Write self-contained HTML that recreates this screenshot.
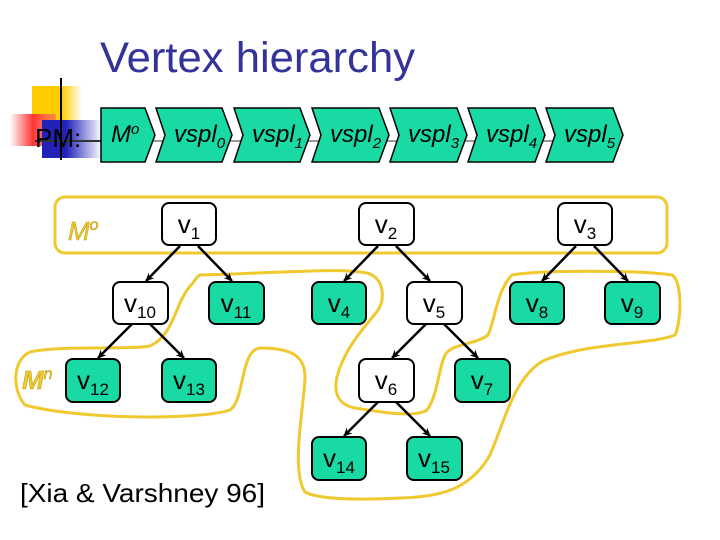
<!DOCTYPE html>
<html><head><meta charset="utf-8"><style>
html,body{margin:0;padding:0;background:#fff;}
svg{display:block;font-family:"Liberation Sans",Arial,sans-serif;}
</style></head><body>
<svg width="720" height="540" viewBox="0 0 720 540" xmlns="http://www.w3.org/2000/svg">
<defs>
<linearGradient id="gy" x1="0" x2="1"><stop offset="0.6" stop-color="#ffcc00"/><stop offset="1" stop-color="#ffcc00" stop-opacity="0"/></linearGradient>
<linearGradient id="gr" x1="0" x2="1"><stop offset="0" stop-color="#ff3333" stop-opacity="0"/><stop offset="0.5" stop-color="#ff3333"/><stop offset="1" stop-color="#ff6666" stop-opacity="0.6"/></linearGradient>
<linearGradient id="gb" x1="0" x2="1"><stop offset="0.4" stop-color="#2222bb"/><stop offset="1" stop-color="#2222bb" stop-opacity="0"/></linearGradient>
<marker id="ar" markerWidth="10" markerHeight="10" refX="8" refY="5" orient="auto" markerUnits="userSpaceOnUse"><path d="M0,1 L9,5 L0,9 L3,5z" fill="#000"/></marker>
</defs>
<text x="100" y="72" font-size="43" fill="#333399" textLength="315" lengthAdjust="spacingAndGlyphs">Vertex hierarchy</text>
<!-- decoration -->
<rect x="32" y="86" width="50" height="34" fill="url(#gy)"/>
<rect x="10" y="114" width="46" height="32" fill="url(#gr)"/>
<rect x="42" y="120" width="60" height="38" fill="url(#gb)"/>
<line x1="61" y1="78" x2="61" y2="160" stroke="#000" stroke-width="2"/>
<line x1="35" y1="141" x2="620" y2="141" stroke="#999" stroke-width="2"/>
<line x1="35" y1="141" x2="101" y2="141" stroke="#333" stroke-width="2"/>
<text x="35" y="147" font-size="26" fill="#000">PM:</text>
<!-- chevrons -->
<g fill="#19d9a4" stroke="#000" stroke-width="1.5">
<path d="M101,108 L145,108 L155,135 L145,162 L101,162Z"/>
<path d="M156,108 L222,108 L232,135 L222,162 L156,162 L165,135Z"/>
<path d="M234,108 L300,108 L310,135 L300,162 L234,162 L243,135Z"/>
<path d="M312,108 L379,108 L389,135 L379,162 L312,162 L321,135Z"/>
<path d="M390,108 L457,108 L467,135 L457,162 L390,162 L399,135Z"/>
<path d="M468,108 L535,108 L545,135 L535,162 L468,162 L477,135Z"/>
<path d="M546,108 L613,108 L623,135 L613,162 L546,162 L555,135Z"/>
</g>
<g font-size="24" font-style="italic" fill="#000">
<text x="111" y="142">M<tspan font-size="15" dy="-8">o</tspan></text>
<text x="174" y="142">vspl<tspan font-size="15" dy="6">0</tspan></text>
<text x="252" y="142">vspl<tspan font-size="15" dy="6">1</tspan></text>
<text x="330" y="142">vspl<tspan font-size="15" dy="6">2</tspan></text>
<text x="408" y="142">vspl<tspan font-size="15" dy="6">3</tspan></text>
<text x="486" y="142">vspl<tspan font-size="15" dy="6">4</tspan></text>
<text x="564" y="142">vspl<tspan font-size="15" dy="6">5</tspan></text>
</g>
<!-- yellow outlines -->
<g fill="none" stroke="#f0c830" stroke-width="3">
<rect x="55" y="197" width="612" height="56" rx="10"/>
<path d="M200,275 C300,272 340,268 367,273 C385,278 385,300 378,310 C370,322 345,345 337,377 C333,395 340,405 355,408 C380,412 415,418 427,410 C438,395 438,370 445,355 C452,343 475,345 488,335 C495,320 497,290 512,275 C540,270 640,270 672,275 C682,280 682,320 675,335 C650,345 590,342 545,360 C515,375 505,420 490,455 C470,490 440,497 400,498 C360,500 320,500 305,492 C290,470 305,400 305,377 C305,355 290,348 260,348 C240,350 245,400 230,410 C200,420 80,420 25,405 C12,390 12,360 30,352 C60,345 130,350 150,346 C175,335 175,300 193,283 C196,278 198,276 200,275Z"/>
</g>
<text x="68" y="240" font-size="26" font-style="italic" fill="#f0c830" stroke="#b89a10" stroke-width="0.5">M<tspan font-size="16" dy="-10">o</tspan></text>
<text x="22" y="389" font-size="26" font-style="italic" font-weight="bold" fill="#f0c830" stroke="#b89a10" stroke-width="0.5">M<tspan font-size="16" dy="-10" font-weight="normal">n</tspan></text>
<!-- edges -->
<g stroke="#000" stroke-width="2.5" marker-end="url(#ar)">
<line x1="180" y1="246" x2="146" y2="281"/>
<line x1="198" y1="246" x2="232" y2="281"/>
<line x1="378" y1="246" x2="344" y2="281"/>
<line x1="396" y1="246" x2="430" y2="281"/>
<line x1="576" y1="246" x2="542" y2="281"/>
<line x1="594" y1="246" x2="628" y2="281"/>
<line x1="132" y1="324" x2="98" y2="358"/>
<line x1="150" y1="324" x2="184" y2="358"/>
<line x1="426" y1="324" x2="392" y2="358"/>
<line x1="444" y1="324" x2="478" y2="358"/>
<line x1="378" y1="402" x2="344" y2="436"/>
<line x1="396" y1="402" x2="430" y2="436"/>
</g>
<!-- nodes -->
<g stroke="#000" stroke-width="2">
<rect x="162" y="203" width="54" height="42" rx="7" fill="#fff"/>
<rect x="359" y="203" width="55" height="42" rx="7" fill="#fff"/>
<rect x="558" y="203" width="54" height="42" rx="7" fill="#fff"/>
<rect x="113" y="282" width="55" height="42" rx="7" fill="#fff"/>
<rect x="209" y="282" width="55" height="42" rx="7" fill="#19d9a4"/>
<rect x="312" y="282" width="54" height="42" rx="7" fill="#19d9a4"/>
<rect x="407" y="282" width="55" height="42" rx="7" fill="#fff"/>
<rect x="510" y="282" width="54" height="42" rx="7" fill="#19d9a4"/>
<rect x="605" y="282" width="55" height="42" rx="7" fill="#19d9a4"/>
<rect x="66" y="359" width="54" height="43" rx="7" fill="#19d9a4"/>
<rect x="162" y="359" width="54" height="43" rx="7" fill="#19d9a4"/>
<rect x="359" y="359" width="55" height="43" rx="7" fill="#fff"/>
<rect x="455" y="359" width="55" height="43" rx="7" fill="#19d9a4"/>
<rect x="312" y="437" width="54" height="43" rx="7" fill="#19d9a4"/>
<rect x="407" y="437" width="55" height="43" rx="7" fill="#19d9a4"/>
</g>
<g font-size="26" fill="#000" text-anchor="middle">
<text x="189" y="233">v<tspan font-size="17" dy="6">1</tspan></text>
<text x="386" y="233">v<tspan font-size="17" dy="6">2</tspan></text>
<text x="585" y="233">v<tspan font-size="17" dy="6">3</tspan></text>
<text x="140" y="312">v<tspan font-size="17" dy="6">10</tspan></text>
<text x="236" y="312">v<tspan font-size="17" dy="6">11</tspan></text>
<text x="339" y="312">v<tspan font-size="17" dy="6">4</tspan></text>
<text x="434" y="312">v<tspan font-size="17" dy="6">5</tspan></text>
<text x="537" y="312">v<tspan font-size="17" dy="6">8</tspan></text>
<text x="632" y="312">v<tspan font-size="17" dy="6">9</tspan></text>
<text x="93" y="389">v<tspan font-size="17" dy="6">12</tspan></text>
<text x="189" y="389">v<tspan font-size="17" dy="6">13</tspan></text>
<text x="386" y="389">v<tspan font-size="17" dy="6">6</tspan></text>
<text x="482" y="389">v<tspan font-size="17" dy="6">7</tspan></text>
<text x="339" y="467">v<tspan font-size="17" dy="6">14</tspan></text>
<text x="434" y="467">v<tspan font-size="17" dy="6">15</tspan></text>
</g>
<text x="20" y="502" font-size="26" fill="#000" textLength="245" lengthAdjust="spacingAndGlyphs">[Xia &amp; Varshney 96]</text>
</svg>
</body></html>
